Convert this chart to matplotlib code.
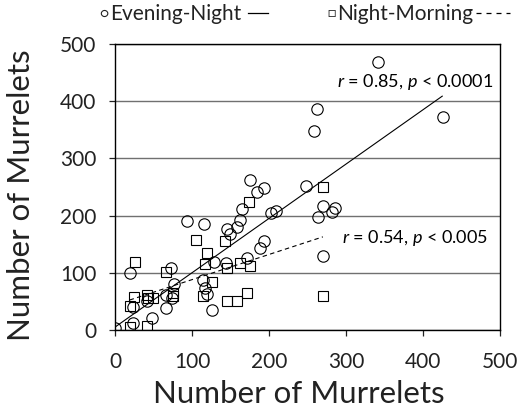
import matplotlib
matplotlib.use("Agg")
import matplotlib.pyplot as plt
from matplotlib.lines import Line2D
import numpy as np

# Evening-Night counts (circles)
en_x = [0, 342, 426, 262, 258, 248, 270, 286, 282, 264, 270, 175, 184, 193, 165, 163,
        203, 209, 93, 116, 145, 150, 159, 193, 188, 128, 144, 171, 20, 73, 77, 114,
        117, 119, 126, 74, 66, 66, 41, 23, 48, 23]
en_y = [3, 468, 372, 386, 347, 251, 216, 213, 206, 197, 129, 262, 241, 248, 211, 192,
        204, 208, 190, 186, 176, 167, 180, 155, 143, 119, 117, 126, 99, 108, 80, 87,
        73, 63, 35, 56, 61, 38, 51, 41, 21, 12]

# Night-Morning counts (squares)
nm_x = [270, 174, 143, 105, 119, 117, 145, 163, 175, 26, 66, 126, 114, 145, 159, 171,
        75, 75, 41, 43, 50, 25, 19, 19, 41, 270]
nm_y = [250, 223, 155, 157, 135, 115, 108, 117, 112, 119, 101, 84, 59, 51, 51, 64,
        64, 59, 61, 56, 56, 58, 42, 6, 7, 59]

# trend lines: intercept, slope, x range
en_fit = [5, 0.95]
en_range = [0, 425]
nm_fit = [44, 0.44]
nm_range = [19, 270]

plt.rcParams['font.family'] = ['Lato', 'DejaVu Sans']
plt.rcParams['mathtext.fontset'] = 'custom'
plt.rcParams['mathtext.it'] = 'Lato:italic'
plt.rcParams['mathtext.rm'] = 'Lato'

fig = plt.figure(figsize=(5.17, 4.09), dpi=100)
ax = fig.add_axes([0.2224, 0.1932, 0.7447, 0.6993])

ax.plot(en_x, en_y, 'o', ms=8.2, mfc='none', mec='black', mew=0.8, zorder=3)
ax.plot(nm_x, nm_y, 's', ms=7.5, mfc='none', mec='black', mew=0.8, zorder=3)

xs = np.array(en_range)
ax.plot(xs, en_fit[0] + en_fit[1] * xs, '-', color='black', lw=0.8, zorder=2)
xs = np.array(nm_range)
ax.plot(xs, nm_fit[0] + nm_fit[1] * xs, color='black', lw=0.8, ls=(0, (4, 3)), zorder=2)

ax.set_xlim(0, 500)
ax.set_ylim(0, 500)
ax.set_xticks(range(0, 501, 100))
ax.set_yticks(range(0, 501, 100))
ax.yaxis.grid(True, color='#707070', lw=1)
ax.set_axisbelow(True)
ax.tick_params(labelsize=15, length=4.5, width=0.9, colors='#222222')
ax.tick_params(axis='x', pad=11)
ax.tick_params(axis='y', pad=9)
for s in ax.spines.values():
    s.set_linewidth(1)
    s.set_color('black')

ax.set_xlabel("Number of Murrelets", fontsize=22.5, color='#222222', va='center')
ax.set_ylabel("Number of Murrelets", fontsize=22.5, color='#222222', va='center')
ax.xaxis.set_label_coords(0.478, -0.224)
ax.yaxis.set_label_coords(-0.244, 0.47)

ax.text(491, 433, r"$r$ = 0.85, $p$ < 0.0001", fontsize=13, ha='right', va='center')
ax.text(484, 160, r"$r$ = 0.54, $p$ < 0.005", fontsize=13, ha='right', va='center')

# legend written as text above the plot, with line samples
W = 517.0
fig.text(99 / W, 0.967, "○", fontsize=10, va='center', color='#222222')
fig.text(110 / W, 0.966, "Evening-Night", fontsize=15, va='center', color='#222222')
fig.text(327 / W, 0.967, "□", fontsize=10, va='center', color='#222222')
fig.text(337 / W, 0.966, "Night-Morning", fontsize=15, va='center', color='#222222')
fig.add_artist(Line2D([248 / W, 268 / W], [0.969, 0.969], color='black', lw=0.9))
fig.add_artist(Line2D([476 / W, 510 / W], [0.967, 0.967], color='black', lw=0.9,
                      ls=(0, (4, 4))))

fig.savefig("out.png", dpi=100)
